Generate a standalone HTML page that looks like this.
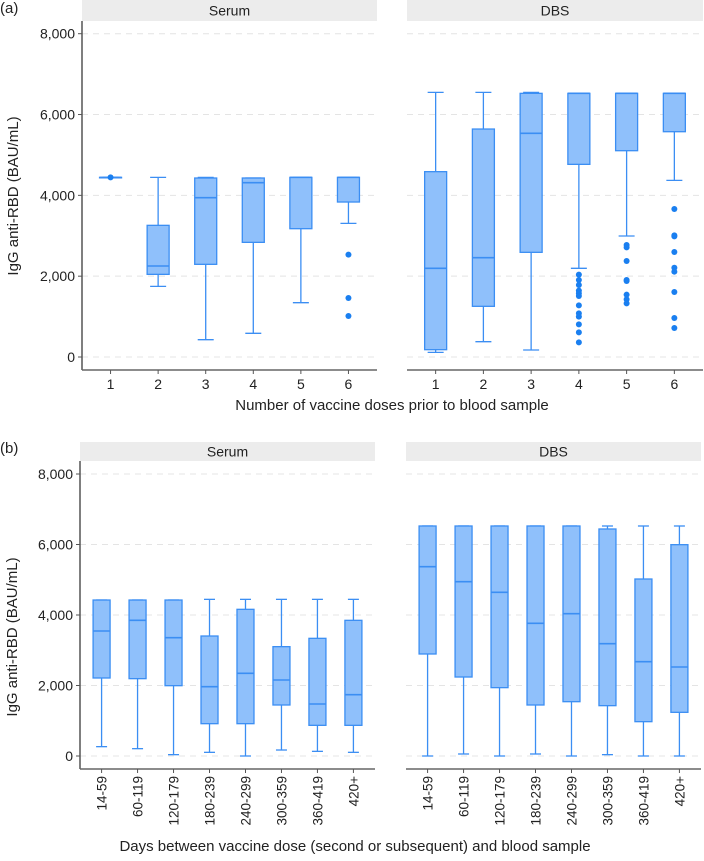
<!DOCTYPE html>
<html><head><meta charset="utf-8"><style>
body{margin:0;background:#fff}
svg text{font-family:"Liberation Sans",Arial,sans-serif;fill:#222}
</style></head><body>
<svg id="c" width="704" height="856" xmlns="http://www.w3.org/2000/svg"></svg>
<script>
// ---- data ----
const doseCats = ["1","2","3","4","5","6"];
const daysCats = ["14-59","60-119","120-179","180-239","240-299","300-359","360-419","420+"];
const yTicks = [0,2000,4000,6000,8000];
const yTickLabels = ["0","2,000","4,000","6,000","8,000"];
// [low, q1, median, q3, high]
const aSerumBoxes = [[4445,4445,4445,4445,4445],[1748,2045,2252,3258,4445],[429,2293,3942,4429,4445],[586,2837,4313,4429,4429],[1344,3175,4445,4445,4445],[3307,3835,4445,4445,4445]];
const aSerumOut = [[],[],[],[],[],[2532,1460,1014]];
const aDbsBoxes = [[115,181,2194,4586,6548],[379,1254,2458,5641,6548],[173,2590,5534,6524,6548],[2194,4767,6524,6524,6524],[2994,5105,6524,6524,6524],[4371,5575,6524,6524,6524]];
const aDbsOut = [[],[],[],[2037,1905,1781,1641,1575,1509,1278,1080,998,808,610,363],[2771,2713,2375,1905,1880,1542,1427,1328],[3662,3010,2986,2598,2210,2111,1608,965,718]];
const bSerumBoxes = [[265,2213,3546,4425,4425],[208,2194,3849,4425,4425],[38,1995,3357,4425,4425],[104,917,1967,3404,4444],[0,917,2345,4161,4444],[170,1447,2156,3102,4444],[132,870,1475,3338,4444],[104,870,1740,3849,4444]];
const bDbsBoxes = [[0,2894,5371,6525,6525],[57,2241,4946,6525,6525],[0,1939,4643,6525,6525],[57,1447,3764,6525,6525],[0,1541,4038,6525,6525],[38,1428,3187,6440,6525],[0,974,2676,5021,6525],[0,1239,2525,5995,6525]];

const svg=document.getElementById('c');
const NS="http://www.w3.org/2000/svg";
function mk(tag,attrs,parent){const e=document.createElementNS(NS,tag);for(const k in attrs)e.setAttribute(k,attrs[k]);(parent||svg).appendChild(e);return e;}
const FILL="#8fc0fb",STROKE="#3b8ef3",PT="#1a7ff0";

function facet(o){
  const g=mk('g',{});
  
  
  const yS=v=>o.y0+(o.y8-o.y0)*v/8000;
  const n=o.cats.length, step=(o.x1-o.x0)/(n-1+1.2);
  const xS=i=>o.x0+step*(0.6+i);
  const strip=mk('rect',{x:o.x0,y:o.stripTop,width:o.x1-o.x0,height:o.stripBot-o.stripTop,fill:'#ececec'},g);
  
  
  const st=mk('text',{x:(o.x0+o.x1)/2,y:(o.stripTop+o.stripBot)/2+5,'text-anchor':'middle','font-size':14},g);
  st.textContent=o.title;
  
  
  yTicks.forEach((t,i)=>{
    const gl=mk('line',{x1:o.x0,x2:o.x1,y1:yS(t),y2:yS(t),stroke:'#e4e4e4','stroke-dasharray':'6,5','stroke-width':1},g);
    
    
    if(o.leftAxis){
      mk('line',{x1:o.x0-4,x2:o.x0,y1:yS(t),y2:yS(t),stroke:'#555'},g);
      const tl=mk('text',{x:o.x0-7,y:yS(t)+5,'text-anchor':'end','font-size':14},g);
      tl.textContent=yTickLabels[i];
      
      
    }
  });
  if(o.leftAxis){
    const ax=mk('line',{x1:o.x0,x2:o.x0,y1:o.stripBot,y2:o.axisY,stroke:'#555','stroke-width':1.5},g);
    
    
  }
  const bx=mk('line',{x1:o.x0,x2:o.x1,y1:o.axisY,y2:o.axisY,stroke:'#666','stroke-width':1.5},g);
  
  
  o.cats.forEach((c,i)=>{
    const x=xS(i), b=o.boxes[i];
    mk('line',{x1:x,x2:x,y1:o.axisY,y2:o.axisY+4,stroke:'#555'},g);
    let tl;
    if(o.rotate){
      tl=mk('text',{x:0,y:0,'text-anchor':'end','font-size':13.5,transform:`translate(${x+5},${o.axisY+7}) rotate(-90)`},g);
    } else {
      tl=mk('text',{x:x,y:o.axisY+19,'text-anchor':'middle','font-size':14},g);
    }
    tl.textContent=c;
    
    
    const bg=mk('g',{},g);
    
    
    mk('line',{x1:x,x2:x,y1:yS(b[0]),y2:yS(b[1]),stroke:STROKE,'stroke-width':1.3},bg);
    mk('line',{x1:x,x2:x,y1:yS(b[3]),y2:yS(b[4]),stroke:STROKE,'stroke-width':1.3},bg);
    mk('line',{x1:x-o.cw/2,x2:x+o.cw/2,y1:yS(b[0]),y2:yS(b[0]),stroke:STROKE,'stroke-width':1.3},bg);
    mk('line',{x1:x-o.cw/2,x2:x+o.cw/2,y1:yS(b[4]),y2:yS(b[4]),stroke:STROKE,'stroke-width':1.3},bg);
    mk('rect',{x:x-o.bw/2,y:yS(b[3]),width:o.bw,height:Math.max(0.5,yS(b[1])-yS(b[3])),fill:FILL,stroke:STROKE,'stroke-width':1.3},bg);
    mk('line',{x1:x-o.bw/2,x2:x+o.bw/2,y1:yS(b[2]),y2:yS(b[2]),stroke:STROKE,'stroke-width':1.6},bg);
    (o.outs?o.outs[i]:[]).forEach(v=>{
      const p=mk('circle',{cx:x,cy:yS(v),r:3,fill:PT},bg);
      
      
    });
    if(o.single && o.single[i]){
      mk('circle',{cx:x,cy:yS(b[2]),r:3,fill:PT},bg);
    }
  });
}

facet({name:'panel-a-serum',x0:82,x1:377,y0:357,y8:33.7,axisY:370,stripTop:0,stripBot:21,title:'Serum',cats:doseCats,boxes:aSerumBoxes,outs:aSerumOut,leftAxis:true,rotate:false,bw:22,cw:16,single:[true]});
facet({name:'panel-a-dbs',x0:407,x1:703,y0:357,y8:33.7,axisY:370,stripTop:0,stripBot:21,title:'DBS',cats:doseCats,boxes:aDbsBoxes,outs:aDbsOut,leftAxis:false,rotate:false,bw:22,cw:16});
facet({name:'panel-b-serum',x0:80,x1:375,y0:756,y8:474,axisY:769,stripTop:442,stripBot:461,title:'Serum',cats:daysCats,boxes:bSerumBoxes,outs:null,leftAxis:true,rotate:true,bw:17,cw:11});
facet({name:'panel-b-dbs',x0:406,x1:701,y0:756,y8:474,axisY:769,stripTop:442,stripBot:461,title:'DBS',cats:daysCats,boxes:bDbsBoxes,outs:null,leftAxis:false,rotate:true,bw:17,cw:11});

function txt(s,attrs,name){const t=mk('text',attrs);t.textContent=s;return t;}
txt('(a)',{x:0,y:13,'font-size':15},'panel-a-label');
txt('(b)',{x:0,y:453,'font-size':15},'panel-b-label');
txt('IgG anti-RBD (BAU/mL)',{x:0,y:0,'text-anchor':'middle','font-size':15,transform:'translate(18,196) rotate(-90)'},'panel-a-y-axis-title');
txt('IgG anti-RBD (BAU/mL)',{x:0,y:0,'text-anchor':'middle','font-size':15,transform:'translate(17,637) rotate(-90)'},'panel-b-y-axis-title');
txt('Number of vaccine doses prior to blood sample',{x:392,y:410,'text-anchor':'middle','font-size':15},'panel-a-x-axis-title');
txt('Days between vaccine dose (second or subsequent) and blood sample',{x:355,y:851,'text-anchor':'middle','font-size':15},'panel-b-x-axis-title');
</script>
</body></html>
